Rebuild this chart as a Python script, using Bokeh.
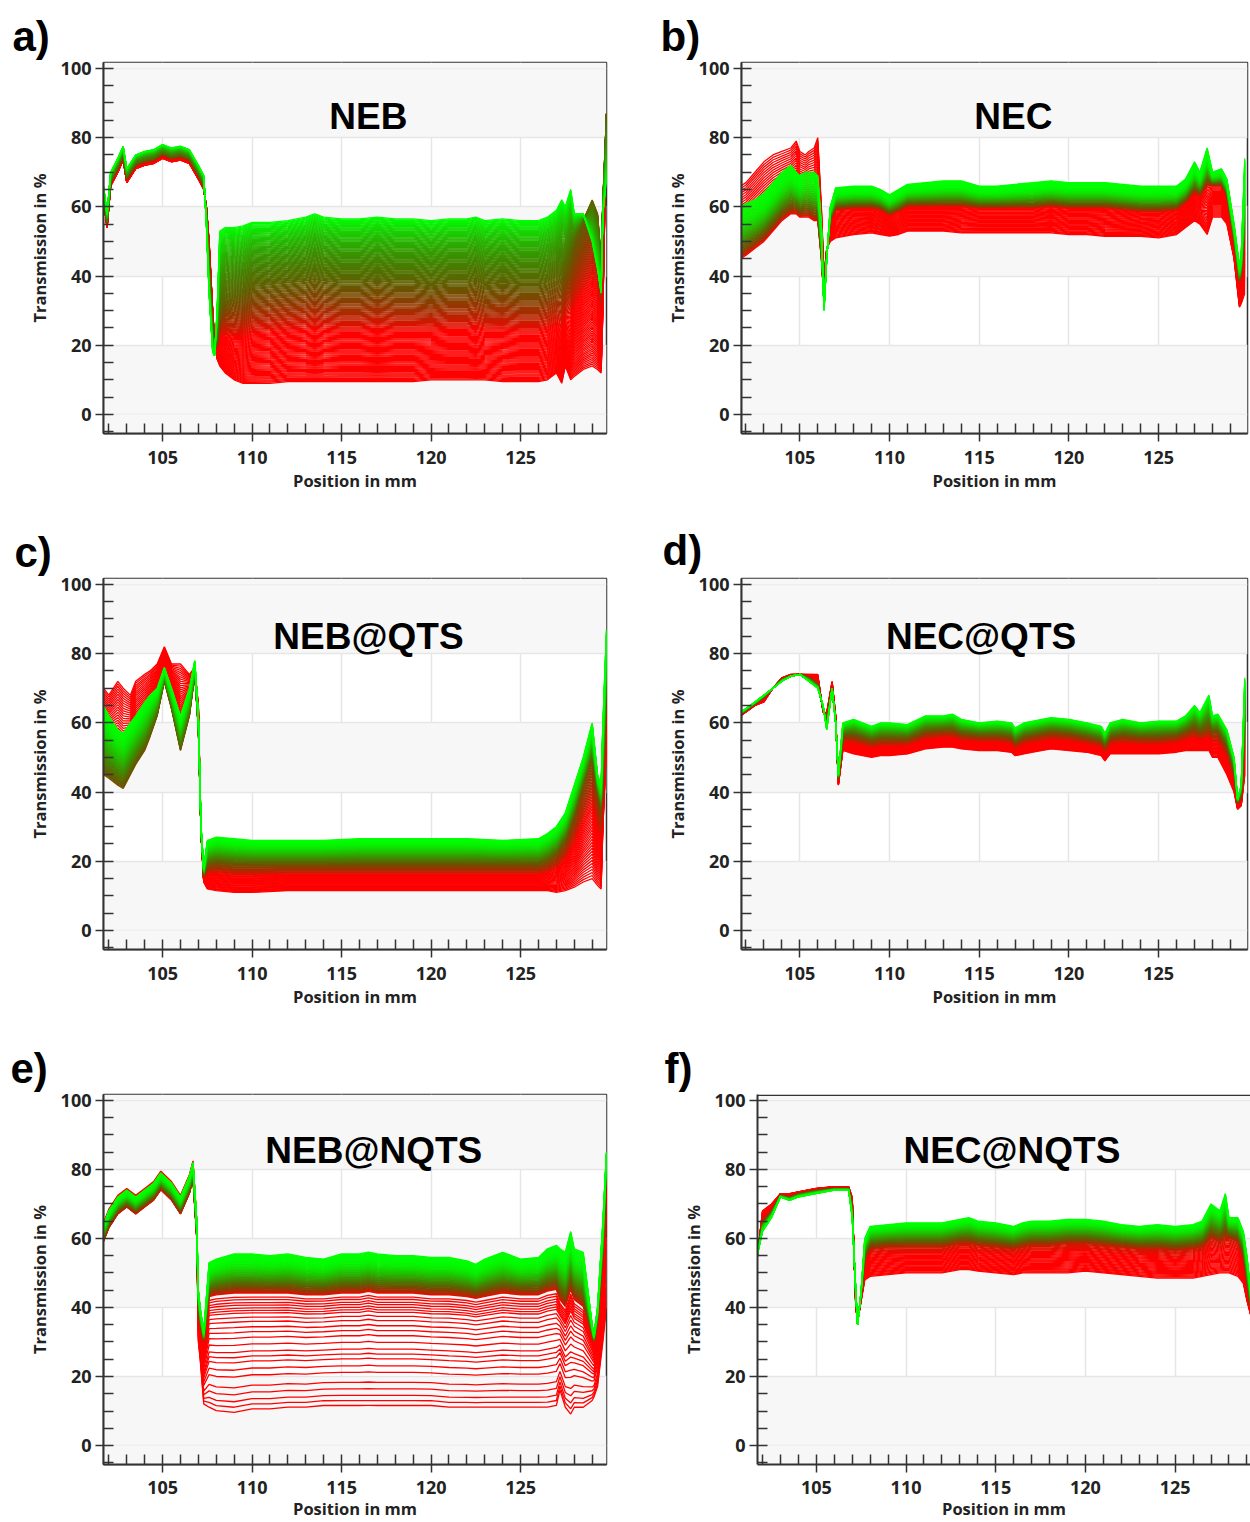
import numpy as np
from bokeh.plotting import figure
from bokeh.models import SingleIntervalTicker, Label, BoxAnnotation, Range1d, ColumnDataSource
from bokeh.layouts import column, row
from bokeh.embed import file_html
from bokeh.resources import INLINE

# ---------------- data ----------------
# Each panel: position grid, first (green) curve, middle curve, last (red) curve.
# panel a) NEB
X_A = [101.7, 101.9, 102.1, 102.5, 102.8, 103.0, 103.5, 104.0, 104.5, 105.0, 105.5, 106.0, 106.5, 107.0,
       107.3, 107.45, 107.6, 107.8, 107.9, 108.05, 108.2, 108.5, 109.0, 109.5, 110, 111, 112, 113, 113.5,
       114, 115, 116, 117, 118, 119, 120, 121, 122, 122.5, 123, 124, 125, 126, 126.5, 127.0, 127.3, 127.5,
       127.8, 128.0, 128.5, 129.0, 129.3, 129.5, 129.6, 129.8]
TOP_A = [66, 58, 70, 74, 77.5, 71, 75, 76, 76.5, 78, 77, 77.5, 76.5, 72,
         69, 55, 35, 18, 17, 30, 53, 54, 54, 54.5, 55.5, 55.5, 56, 57, 58,
         57, 56.5, 56.5, 57, 56.5, 56.5, 56, 56.5, 56.5, 57, 56, 56.5, 56, 56, 57, 59, 62, 60,
         65, 58, 58, 50, 42, 35, 58, 68]
MID_A = [63.5, 55.5, 67.5, 71.5, 75, 68.5, 72.5, 73.5, 74, 75.5, 74.5, 75, 74, 69.5,
         66.5, 58, 42, 24, 18, 22, 30, 33, 34, 35, 37, 37.5, 38, 38.5, 39,
         38.5, 38, 38, 38.5, 38, 38, 37.5, 38, 38, 38.5, 37.5, 38, 37.5, 37.5, 38, 39, 40, 42,
         46, 50, 56, 62, 58, 45, 62, 87]
BOT_A = [62, 54, 66, 70, 73.5, 67, 71, 72, 72.5, 74, 73, 73.5, 72.5, 68,
         65, 60, 50, 30, 22, 16, 14, 12, 10, 9, 9, 9, 9.5, 9.5, 9.5,
         9.5, 9.5, 9.5, 9.5, 9.5, 9.5, 10, 10, 10, 10, 10, 9.5, 9.5, 9.5, 10, 12, 9, 14,
         10, 11, 13, 14, 13, 12, 30, 85]

# panel b) NEC
X_B = [101.7, 102.0, 102.5, 103.0, 103.5, 104.0, 104.5, 104.8, 105.0, 105.3, 105.5, 105.8, 106.0, 106.2,
       106.35, 106.5, 106.7, 107, 108, 109, 109.5, 110, 110.5, 111, 112, 113, 114, 115, 116, 117, 118,
       119, 120, 121, 122, 123, 124, 125, 126, 126.5, 127, 127.3, 127.7, 128, 128.5, 128.8, 129.2,
       129.5, 129.6, 129.8]
TOP_B = [60, 61, 62, 64, 67, 70, 72, 70, 69, 70, 70, 70, 69, 55,
         30, 45, 60, 65.5, 66, 66, 65, 63.5, 65, 66.5, 67, 67.5, 67.5, 66, 66, 66.5, 67,
         67.5, 67, 67, 67, 66.5, 66, 66, 66, 68, 73, 70, 77, 70, 71, 68, 55,
         43, 46, 74]
MID_B = [45, 46, 48, 50, 53, 56, 58, 58, 57, 57, 57, 56, 56, 45,
         33, 46, 56, 59, 59.5, 59.5, 59, 57.5, 58.5, 60, 60, 60, 60, 59.5, 59.5, 59.5, 59.5,
         60, 59.5, 59.5, 59.5, 59, 58.5, 58.5, 59, 61, 64, 63, 66, 66, 66, 63, 50,
         38, 40, 50]
BOT_B = [66, 67, 70, 73, 75, 76, 77, 79, 76, 75, 76, 77, 80, 60,
         40, 48, 50, 51, 52, 52.5, 52, 51.5, 52, 53, 53, 53, 52.5, 52.5, 52.5, 52.5, 52.5,
         52.5, 52, 52, 51.5, 51.5, 51.5, 51, 52, 54, 56, 55, 52, 57, 57, 55, 45,
         31, 32, 35]

# panel c) NEB@QTS
X_C = [101.7, 102.0, 102.5, 102.8, 103.2, 103.5, 104.0, 104.3, 104.7, 105.1, 105.5, 106.0, 106.5, 106.8,
       107.0, 107.15, 107.3, 107.5, 108, 109, 110, 112, 114, 116, 118, 120, 122, 124, 126, 126.5, 127,
       127.5, 128, 128.5, 129, 129.3, 129.5, 129.6, 129.8]
TOP_C = [65, 62, 58, 57, 60, 62, 66, 68, 70, 76, 70, 62, 70, 78,
         62, 30, 18, 26, 27, 26.5, 26, 26, 26, 26.5, 26.5, 26.5, 26.5, 26, 26.5, 28, 30,
         34, 42, 50, 60, 45, 42, 60, 87]
MID_C = [45, 44, 42, 41, 45, 48, 52, 56, 62, 72, 64, 52, 62, 74,
         58, 28, 16, 19, 19.5, 19, 19, 19, 19, 19, 19, 19, 19, 19, 19, 20, 22,
         26, 33, 42, 50, 40, 35, 45, 70]
BOT_C = [70, 68, 72, 70, 68, 72, 74, 75, 77, 82, 77, 77, 74, 76,
         65, 28, 14, 12, 11.5, 11, 11, 11.5, 11.5, 11.5, 11.5, 11.5, 11.5, 11.5, 11.5, 11.5, 11,
         11.5, 12.5, 14, 15, 13, 12, 30, 52]

# panel d) NEC@QTS
X_D = [101.7, 102.5, 103, 103.5, 104, 104.5, 105, 105.5, 106, 106.3, 106.5, 106.8, 107.0, 107.15, 107.4,
       108, 109, 109.5, 110, 111, 112, 113, 113.5, 114, 115, 116, 116.8, 117, 117.5, 118, 119, 120,
       121, 121.8, 122, 122.3, 123, 124, 125, 126, 126.5, 127, 127.3, 127.8, 128, 128.3, 128.8, 129.2,
       129.4, 129.6, 129.8]
TOP_D = [63, 66, 68, 70, 72, 73.5, 74, 72, 70, 65, 58, 70, 60, 45, 60,
         61, 59, 60, 60, 59.5, 62, 62, 62.5, 61, 60, 60.5, 60, 58.5, 60, 60.5, 61.5, 61,
         60, 59, 57, 60, 61, 60, 60.5, 60.5, 62, 65, 63, 68, 62, 62.5, 58, 50,
         38, 42, 73]
MID_D = [62.5, 65.5, 67.5, 70, 72.5, 73.5, 74, 73, 71, 64, 60, 70, 60, 44, 56,
         56, 54.5, 55, 55, 55, 57, 57.5, 57.5, 56.5, 56, 56, 55.5, 54, 55.5, 56, 57, 56.5,
         55.5, 54.5, 53, 55.5, 56, 55.5, 55.5, 56, 57, 58, 57, 58, 57, 57, 53, 46,
         37, 39, 58]
BOT_D = [62, 65, 66, 70, 73, 74, 74, 74, 74, 63, 63, 72, 62, 42, 52,
         51, 50, 50.5, 50.5, 51, 52.5, 53, 53, 52.5, 52, 52, 51.5, 50.5, 51, 51.5, 52.5, 52,
         51.5, 50.5, 49, 51, 51, 51, 51, 51.5, 52, 52, 52, 52, 50, 50, 45, 40,
         35, 36, 45]

# panel e) NEB@NQTS
X_E = [101.7, 102, 102.5, 103, 103.5, 104, 104.5, 104.9, 105.5, 106, 106.5, 106.7, 106.9, 107.0, 107.1,
       107.3, 107.6, 108, 109, 110, 111, 112, 113, 114, 115, 116, 116.5, 117, 118, 119, 120, 121, 122,
       122.5, 123, 124, 125, 126, 126.5, 127, 127.2, 127.5, 127.8, 128, 128.5, 129, 129.1, 129.3,
       129.6, 129.8]
TOP_E = [64, 68, 72, 74, 72, 74, 76, 79, 76, 72, 78, 82, 66, 45, 40,
         33, 53, 54, 55.5, 55.5, 55, 55.5, 54.5, 54, 55.5, 55.5, 56, 55.5, 55, 55, 54.5, 54.5, 53.5,
         52.5, 54, 56, 54, 54.5, 57, 58, 57, 56, 62, 57, 56, 35, 32, 40,
         65, 85]
MID_E = [59, 63, 67, 69, 67, 69, 71, 74, 71, 67, 73, 77, 61, 40, 35,
         30, 43, 43.5, 44, 44, 44, 44, 43.5, 43.5, 44, 44, 44.5, 44, 44, 44, 43.5, 43.5, 43,
         42.5, 43, 44, 43.5, 43.5, 44.5, 45, 42, 40, 45, 42, 40, 32, 30, 36,
         55, 80]
BOT_E = [64.5, 68.5, 72.5, 74.5, 72.5, 74.5, 76.5, 79.5, 76.5, 72.5, 78.5, 82.5, 66, 30, 25,
         12, 11, 10, 9.5, 10.5, 10.5, 11, 11, 11.5, 11.5, 11.5, 11.5, 11.5, 11.5, 11.5, 11.5, 11, 11,
         11, 11, 11, 11, 11, 11, 11.5, 16, 11, 9, 11, 11, 13, 14, 17,
         30, 40]
# levels (in % at 115 mm) of the separate red curves below the dense band in e)
E_LOWER_LEVELS = [43, 42.3, 41.5, 40.8, 40, 39.3, 38.6, 37.4, 36.2, 34.7, 33.3, 31.8, 29.9, 27.9,
                  26.5, 25.1, 23.1, 21.2, 18.3, 16.4, 14.5, 13, 11.6]

# panel f) NEC@NQTS
X_F = [101.7, 102, 102.5, 103, 103.5, 104, 105, 106, 106.8, 107.0, 107.2, 107.3, 107.5, 107.7, 108, 109,
       110, 111, 112, 113, 113.5, 114, 115, 116, 116.5, 117, 118, 119, 120, 121, 122, 123, 124, 125,
       126, 126.5, 127, 127.5, 127.8, 128, 128.5, 128.8, 129, 129.2, 129.5]
TOP_F = [55, 62, 66, 72, 71, 72, 73, 74, 74, 66, 45, 35, 45, 60, 63.5, 64,
         64.5, 64.5, 64.5, 65.5, 66, 65, 64.5, 63.5, 64.5, 65, 65, 65.5, 65.5, 65, 64, 63.5, 64, 63.5,
         64, 65, 70, 68, 73, 66, 66, 62, 55, 45, 35]
MID_F = [55, 65, 68, 72.5, 72, 73, 74, 74.5, 74.5, 69, 42, 35.5, 44, 54, 57, 57.5,
         57.5, 57.5, 57.5, 58.5, 58.5, 58, 57.5, 57, 57.5, 58, 58, 58.5, 58.5, 58, 57.5, 57, 57, 56.5,
         57, 57.5, 60, 59, 60, 60, 59, 55, 47, 40, 33]
BOT_F = [54, 68, 70, 73, 73, 73.5, 74.5, 75, 75, 72, 40, 36, 42, 48, 49, 49.5,
         50, 50, 50, 51, 51, 50.5, 50, 49.5, 50, 50, 50, 50, 50.5, 50, 49.5, 49, 48.5, 48.5,
         48.5, 49, 49.5, 50, 50, 50, 49, 47, 42, 38, 32]

TITLES = ["NEB", "NEC", "NEB@QTS", "NEC@QTS", "NEB@NQTS", "NEC@NQTS"]
TAGS = ["a)", "b)", "c)", "d)", "e)", "f)"]
# number of curves between first and middle curve, and between middle and last curve
N_UPPER = [70, 45, 50, 40, 60, 45]
N_LOWER = [90, 30, 40, 30, None, 30]
LOWER_LEVELS = [None, None, None, None, E_LOWER_LEVELS, None]
X_AXIS_LABEL = "Position in mm"
Y_AXIS_LABEL = "Transmission in %"

DATA = [(X_A, TOP_A, MID_A, BOT_A), (X_B, TOP_B, MID_B, BOT_B), (X_C, TOP_C, MID_C, BOT_C),
        (X_D, TOP_D, MID_D, BOT_D), (X_E, TOP_E, MID_E, BOT_E), (X_F, TOP_F, MID_F, BOT_F)]

# ---------------- styling / layout (not data) ----------------
COLOR_MID = [0.5, 1.0, 0.6, 0.7, 1.0, 0.9]    # colour position of the middle curve
COLOR_POW = [1.0, 3.0, 2.0, 1.5, 2.5, 2.0]
RED_AT = [0.5, 0.3, 0.4, 0.4, 0.1, 0.3]        # part of lower family after which pure red

Y_RANGE = (-5.5, 101.7)
FRAME_H = 371
# per panel: fig width, fig height, border left, frame width, x range, tag (px left, title standoff), title (x, y)
LAYOUT = [
    dict(w=620, h=516, bt=62, bl=103, fw=503, xr=(101.7, 129.8), tag=(12, 5), title=(116.5, 86.2), box=True),
    dict(w=630, h=516, bt=62, bl=121, fw=506, xr=(101.75, 129.95), tag=(40, 5), title=(116.9, 86.2), box=True),
    dict(w=620, h=516, bt=62, bl=103, fw=503, xr=(101.7, 129.8), tag=(14, 5), title=(116.5, 85.0), box=True),
    dict(w=630, h=516, bt=62, bl=121, fw=506, xr=(101.75, 129.95), tag=(42, 10), title=(115.1, 85.0), box=True),
    dict(w=620, h=490, bt=62, bl=103, fw=503, xr=(101.7, 129.8), tag=(10, 6), title=(116.8, 85.6), box=True),
    dict(w=630, h=490, bt=62, bl=137, fw=493, xr=(101.72, 129.2), tag=(44, 6), title=(115.9, 85.6), box=False),
]


def colour(c):
    c = max(0.0, min(1.0, c))
    dark = 1.0 - 0.25 * 4 * c * (1 - c)
    r = int(round(255 * c * dark))
    g = int(round(255 * (1 - c) * dark))
    return "#%02x%02x00" % (r, g)


def family(i):
    X, T, M, B = [np.array(a, dtype=float) for a in DATA[i]]
    xs, ys, cs = [], [], []
    nu = N_UPPER[i]
    cm, cp, ra = COLOR_MID[i], COLOR_POW[i], RED_AT[i]
    for k in range(nu):
        t = k / nu
        xs.append(list(X))
        ys.append(list(T + t * (M - T)))
        cs.append(colour(cm * t ** cp))
    if LOWER_LEVELS[i] is not None:
        m_ref = float(np.interp(115.0, X, M))
        b_ref = float(np.interp(115.0, X, B))
        ts = [(m_ref - lv) / (m_ref - b_ref) for lv in LOWER_LEVELS[i]]
    else:
        nl = N_LOWER[i]
        ts = [k / nl for k in range(nl + 1)]
    for t in ts:
        xs.append(list(X))
        ys.append(list(M + t * (B - M)))
        cs.append(colour(cm + (1 - cm) * min(1.0, t / ra)))
    # draw last (red) curves first so that green ones lie on top
    return xs[::-1], ys[::-1], cs[::-1]


FONT_UI = "Open Sans"
FONT_TITLE = "Liberation Sans"
DARK = "#222222"


def make_panel(i):
    L = LAYOUT[i]
    last_row = i >= 4
    bb = L["h"] - L["bt"] - FRAME_H
    br = L["w"] - L["bl"] - L["fw"]
    p = figure(width=L["w"], height=L["h"], x_range=Range1d(*L["xr"]), y_range=Range1d(*Y_RANGE),
               output_backend="svg", toolbar_location=None,
               min_border_left=L["bl"], min_border_right=br, min_border_top=L["bt"],
               min_border_bottom=bb)
    p.background_fill_color = "white"
    p.border_fill_color = "white"

    # background bands / grid
    p.add_layout(BoxAnnotation(top=0, fill_color="#f7f7f7", fill_alpha=1, line_alpha=0, level="underlay"))
    p.add_layout(BoxAnnotation(bottom=100, fill_color="#f7f7f7", fill_alpha=1, line_alpha=0, level="underlay"))

    if L["box"]:
        p.outline_line_color = "#333333"
        p.outline_line_width = 1.5
    else:
        # the frame runs past the page edge: only the top border is visible
        p.outline_line_color = None
        top_strip = Y_RANGE[1] - 0.45
        p.add_layout(BoxAnnotation(bottom=top_strip, fill_color="#333333", fill_alpha=1,
                                   line_alpha=0, level="overlay"))

    # panel tag a), b), ... as the figure title, left of the frame
    px, so = L["tag"]
    p.title.text = TAGS[i]
    p.title.align = "left"
    p.title.offset = px - L["bl"]
    p.title.standoff = so
    p.title.text_font = FONT_TITLE
    p.title.text_font_style = "bold"
    p.title.text_font_size = "42px"
    p.title.text_color = "black"

    xt = SingleIntervalTicker(interval=5, num_minor_ticks=5)
    yt = SingleIntervalTicker(interval=20, num_minor_ticks=4)
    p.xaxis.ticker = xt
    p.yaxis.ticker = yt
    p.xgrid.ticker = xt
    p.ygrid.ticker = yt
    p.xgrid.grid_line_color = "#e6e6e6"
    p.ygrid.grid_line_color = "#e6e6e6"
    p.xgrid.grid_line_width = 1.5
    p.ygrid.grid_line_width = 1.5
    p.ygrid.band_fill_color = "#f7f7f7"
    p.ygrid.band_fill_alpha = 1.0

    for ax in (p.xaxis[0], p.yaxis[0]):
        ax.axis_line_color = "#333333"
        ax.axis_line_width = 2
        ax.major_tick_line_color = "#333333"
        ax.minor_tick_line_color = "#333333"
        ax.major_tick_line_width = 1.5
        ax.minor_tick_line_width = 1.5
        ax.major_tick_in = 0
        ax.major_tick_out = 8
        ax.minor_tick_in = 10
        ax.minor_tick_out = 0
        ax.major_label_text_font = FONT_UI
        ax.major_label_text_font_style = "bold"
        ax.major_label_text_font_size = "18px"
        ax.major_label_text_color = DARK
        ax.axis_label_text_font = FONT_UI
        ax.axis_label_text_font_style = "bold"
        ax.axis_label_text_font_size = "16.5px"
        ax.axis_label_text_color = DARK
    p.xaxis.axis_label = X_AXIS_LABEL
    p.yaxis.axis_label = Y_AXIS_LABEL
    p.xaxis.major_label_standoff = 8 if last_row else 9
    p.xaxis.axis_label_standoff = 0 if last_row else 2
    p.yaxis.major_label_standoff = 4
    p.yaxis.axis_label_standoff = 7

    xs, ys, cs = family(i)
    src = ColumnDataSource(dict(xs=xs, ys=ys, c=cs))
    p.multi_line("xs", "ys", line_color="c", line_width=1.3, source=src)

    # panel title
    tx, ty = L["title"]
    p.add_layout(Label(x=tx, y=ty, text=TITLES[i], text_align="center", text_baseline="alphabetic",
                       text_font=FONT_TITLE, text_font_style="bold", text_font_size="37px",
                       text_color="black"))
    return p


panels = [make_panel(i) for i in range(6)]
layout = column(row(panels[0], panels[1]), row(panels[2], panels[3]), row(panels[4], panels[5]))

open("out.html", "w").write(file_html(layout, INLINE))
